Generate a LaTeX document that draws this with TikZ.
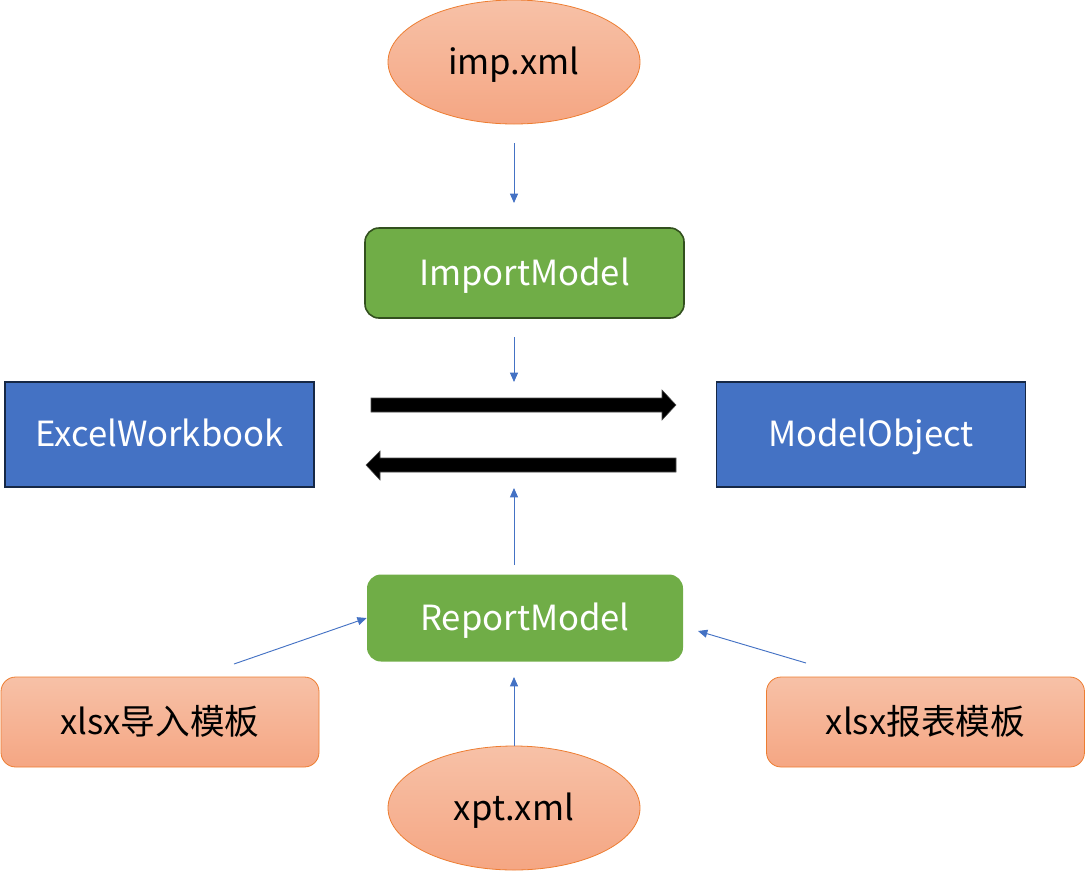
\documentclass[tikz,border=0pt]{standalone}
\usepackage{fontspec}
\setmainfont{Noto Sans CJK SC}
\usetikzlibrary{shapes.geometric,arrows.meta}
\definecolor{orTop}{RGB}{247,193,167}
\definecolor{orBot}{RGB}{245,166,131}
\definecolor{orLine}{RGB}{237,125,49}
\definecolor{gFill}{RGB}{112,173,71}
\definecolor{gLine}{RGB}{50,80,30}
\definecolor{bFill}{RGB}{68,114,196}
\definecolor{bLine}{RGB}{22,40,70}
\definecolor{conn}{RGB}{68,114,196}
\tikzset{
  lbl/.style={font=\fontsize{26}{30}\selectfont, inner sep=0pt, text height=18.5pt, text depth=0pt},
  orell/.style={ellipse, lbl, minimum width=189pt, minimum height=93pt, top color=orTop, bottom color=orBot, draw=orLine, line width=0.6pt},
  orbox/.style={rectangle, rounded corners=11pt, lbl, minimum width=238.5pt, minimum height=67.5pt, top color=orTop, bottom color=orBot, draw=orLine, line width=0.6pt},
  gbox/.style={rectangle, rounded corners=10.5pt, lbl, text=white, fill=gFill},
  bbox/.style={rectangle, lbl, text=white, fill=bFill, draw=bLine, line width=1.2pt, minimum width=231.75pt, minimum height=78.75pt},
  link/.style={draw=conn, line width=0.7pt, -{Triangle[length=7pt,width=6pt]}},
  fatarrow/.style={fill=black, draw=black!70, line width=0.4pt}
}
\begin{document}
\begin{tikzpicture}[x=0.75pt,y=-0.75pt]
\useasboundingbox (0,0) rectangle (1085,871);
\node[orell] (imp) at (514,62) {imp.xml};
\node[gbox, draw=gLine, line width=1.2pt, minimum width=239.25pt, minimum height=67.5pt] (im) at (524.5,273) {ImportModel};
\node[bbox] (ew) at (159.5,434.5) {ExcelWorkbook};
\node[bbox] (mo) at (871,434.5) {ModelObject};
\node[gbox, minimum width=237pt, minimum height=65.25pt] (rm) at (525,618) {ReportModel};
\node[orbox] (xi) at (160,722) {xlsx导入模板};
\node[orbox] (xr) at (925.5,722) {xlsx报表模板};
\node[orell] (xpt) at (514,808) {xpt.xml};
% thick arrows
\draw[fatarrow] (371,398) -- (662,398) -- (662,390) -- (676,405) -- (662,420) -- (662,412) -- (371,412) -- cycle;
\draw[fatarrow] (676,458) -- (380,458) -- (380,451) -- (366,465) -- (380,480) -- (380,472) -- (676,472) -- cycle;
% connector end points
\coordinate (a1) at (514,143);
\coordinate (a2) at (514,203);
\coordinate (b1) at (514,337);
\coordinate (b2) at (514,382);
\coordinate (c1) at (514,565);
\coordinate (c2) at (514,488);
\coordinate (d2) at (514,677);
\coordinate (e1) at (234,664);
\coordinate (f1) at (806,663);
\coordinate (f2) at (698,631);
\draw[link] (a1) -- (a2);
\draw[link] (b1) -- (b2);
\draw[link] (c1) -- (c2);
\draw[link] (xpt.north) -- (d2);
\draw[link] (e1) -- (rm.west);
\draw[link] (f1) -- (f2);
\end{tikzpicture}
\end{document}
